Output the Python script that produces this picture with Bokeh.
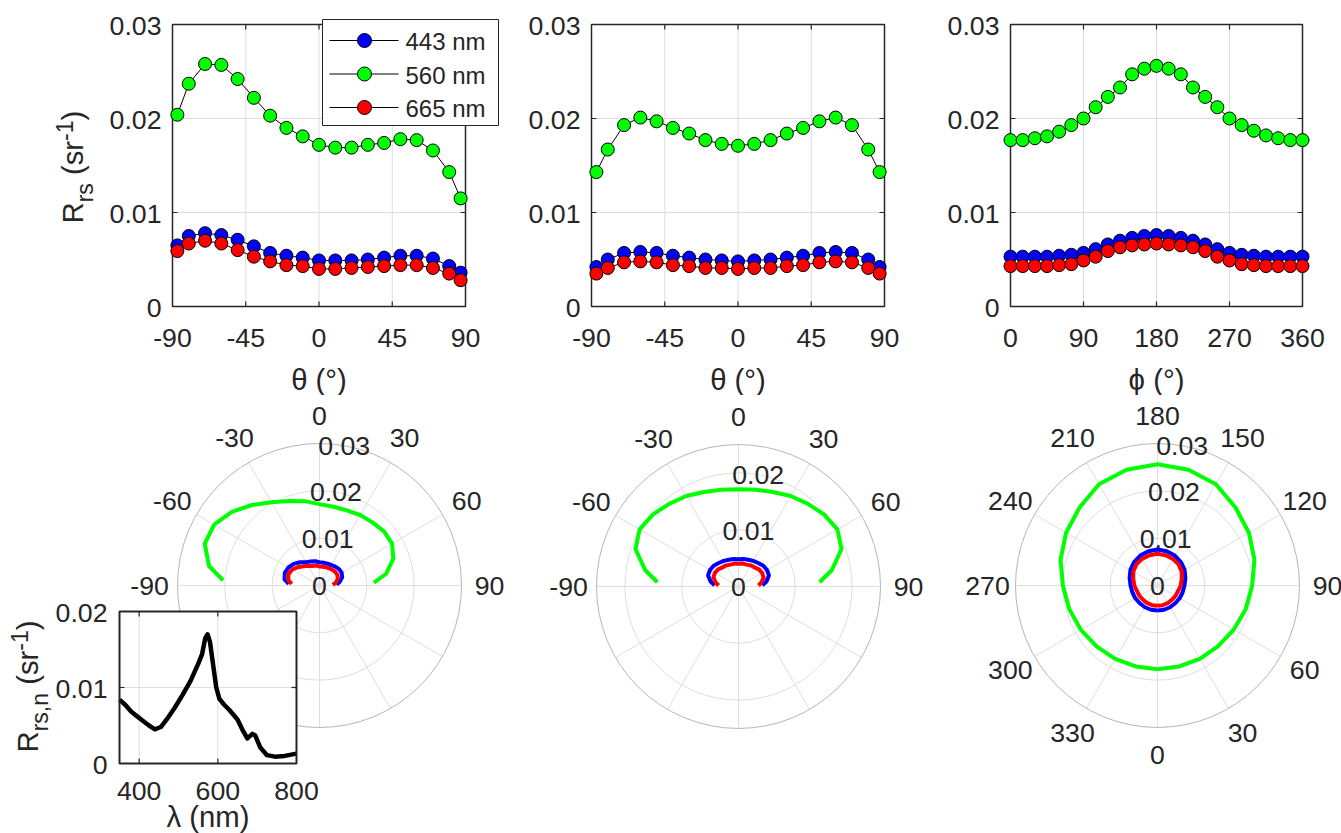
import math
from bokeh.plotting import figure
from bokeh.layouts import row, column
from bokeh.models import Range1d
from bokeh.embed import file_html
from bokeh.resources import INLINE
from bokeh.core.properties import value

# ---------------- data ----------------
theta_deg = [-87, -80, -70, -60, -50, -40, -30, -20, -10, 0, 10, 20, 30, 40, 50, 60, 70, 80, 87]
a_443 = [0.0065, 0.0075, 0.0078, 0.0076, 0.0071, 0.0064, 0.0057, 0.0054, 0.0052, 0.0049,
         0.0049, 0.0049, 0.0050, 0.0052, 0.0054, 0.0054, 0.0051, 0.0043, 0.0036]
a_560 = [0.0204, 0.0237, 0.0258, 0.0257, 0.0242, 0.0222, 0.0203, 0.0190, 0.0181, 0.0172,
         0.0169, 0.0169, 0.0172, 0.0174, 0.0178, 0.0177, 0.0166, 0.0143, 0.0115]
a_665 = [0.0059, 0.0067, 0.0070, 0.0067, 0.0060, 0.0053, 0.0048, 0.0044, 0.0043, 0.0040,
         0.0040, 0.0041, 0.0042, 0.0043, 0.0044, 0.0044, 0.0041, 0.0035, 0.0028]

b_443 = [0.0042, 0.0050, 0.0057, 0.0058, 0.0057, 0.0054, 0.0052, 0.0050, 0.0049, 0.0048,
         0.0049, 0.0050, 0.0052, 0.0054, 0.0057, 0.0058, 0.0057, 0.0050, 0.0042]
b_560 = [0.0143, 0.0167, 0.0193, 0.0201, 0.0197, 0.0190, 0.0184, 0.0177, 0.0173, 0.0171,
         0.0173, 0.0177, 0.0184, 0.0190, 0.0197, 0.0201, 0.0193, 0.0167, 0.0143]
b_665 = [0.0035, 0.0041, 0.0047, 0.0048, 0.0047, 0.0044, 0.0043, 0.0041, 0.0041, 0.0040,
         0.0041, 0.0041, 0.0043, 0.0044, 0.0047, 0.0048, 0.0047, 0.0041, 0.0035]

phi_deg = [0, 15, 30, 45, 60, 75, 90, 105, 120, 135, 150, 165, 180,
           195, 210, 225, 240, 255, 270, 285, 300, 315, 330, 345, 360]
c_443 = [0.0053, 0.0053, 0.0053, 0.0053, 0.0054, 0.0055, 0.0057, 0.0061, 0.0066, 0.0070, 0.0073, 0.0075, 0.0076,
         0.0075, 0.0073, 0.0070, 0.0066, 0.0061, 0.0057, 0.0055, 0.0054, 0.0053, 0.0053, 0.0053, 0.0053]
c_560 = [0.0177, 0.0177, 0.0179, 0.0181, 0.0186, 0.0193, 0.0200, 0.0212, 0.0223, 0.0233, 0.0247, 0.0253, 0.0256,
         0.0253, 0.0247, 0.0233, 0.0223, 0.0212, 0.0200, 0.0193, 0.0187, 0.0182, 0.0179, 0.0177, 0.0177]
c_665 = [0.0043, 0.0043, 0.0043, 0.0043, 0.0044, 0.0045, 0.0049, 0.0053, 0.0059, 0.0063, 0.0065, 0.0066, 0.0067,
         0.0066, 0.0065, 0.0063, 0.0059, 0.0053, 0.0049, 0.0045, 0.0044, 0.0043, 0.0043, 0.0043, 0.0043]

wavelength_nm = [350, 365, 380, 395, 410, 425, 440, 455, 470, 490, 510, 530, 550, 560, 568, 574,
                 580, 588, 596, 604, 615, 630, 650, 662, 675, 688, 695, 708, 725, 745, 770, 800]
rrs_n = [0.0084, 0.0077, 0.0068, 0.0062, 0.0056, 0.0050, 0.0045, 0.0048, 0.0058, 0.0073, 0.0090, 0.0108,
         0.0131, 0.0144, 0.0165, 0.0170, 0.0160, 0.0130, 0.0100, 0.0085, 0.0078, 0.0070, 0.0058, 0.0045,
         0.0033, 0.0039, 0.0037, 0.0021, 0.0011, 0.0009, 0.0010, 0.0013]

series_labels = ["443 nm", "560 nm", "665 nm"]
series_colors = ["#0000ff", "#00ff00", "#ff0000"]

rrs_lim = [0, 0.03]
rrs_ticks = [0, 0.01, 0.02, 0.03]
rrs_tick_labels = ["0", "0.01", "0.02", "0.03"]
theta_lim = [-90, 90]
theta_ticks = [-90, -45, 0, 45, 90]
theta_tick_labels = ["-90", "-45", "0", "45", "90"]
phi_lim = [0, 360]
phi_ticks = [0, 90, 180, 270, 360]
phi_tick_labels = ["0", "90", "180", "270", "360"]

polar_rmax = [0.03, 0.025, 0.03]
polar_r_ticks = [[0, 0.01, 0.02, 0.03], [0, 0.01, 0.02], [0, 0.01, 0.02, 0.03]]
polar_r_labels = [["0", "0.01", "0.02", "0.03"], ["0", "0.01", "0.02"], ["0", "0.01", "0.02", "0.03"]]
polar_theta_ticks_half = [-90, -60, -30, 0, 30, 60, 90]
polar_phi_ticks = [0, 30, 60, 90, 120, 150, 180, 210, 240, 270, 300, 330]

lam_lim = [350, 800]
lam_ticks = [400, 600, 800]
lam_tick_labels = ["400", "600", "800"]
rn_lim = [0, 0.02]
rn_ticks = [0, 0.01, 0.02]
rn_tick_labels = ["0", "0.01", "0.02"]

ylabel_parts = ["R", "rs", "(sr", "-1", ")"]
inset_ylabel_parts = ["R", "rs,n", "(sr", "-1", ")"]
ylabel_kind = ["main", "sub", "main", "sup", "main"]
ylabel_space_before = [False, False, True, False, False]

# ---------------- style / layout ----------------
FONT = "Liberation Sans"
TXT = "#262626"
AX = "#262626"
GRID = "#dedede"
TICK_PX = 26.7
LABEL_PX = 29.3
SUB_PX = 23
LEG_PX = 24
TICK_LEN = 5
SUB_SHIFT = 13
SUP_SHIFT = -8

COL_W = [528, 419, 394]
TOP_H, BOT_H = 395, 438
BOT_TOP = TOP_H
POLAR_R_PX = 142.0
THETA_LABEL_FACTOR = 1.197
R_LABEL_ANGLE = 10.0

ADV = {'R': 0.722, 'r': 0.333, 's': 0.5, ' ': 0.278, '(': 0.333, ')': 0.333,
       '-': 0.333, '1': 0.556, ',': 0.278, 'n': 0.556}


def text_w(s, px):
    return sum(ADV.get(c, 0.556) for c in s) * px


def canvas(W, H, L, R, T, B, xlim, ylim):
    xpp = (xlim[1] - xlim[0]) / (R - L)
    ypp = (ylim[1] - ylim[0]) / (B - T)
    p = figure(width=W, height=H,
               x_range=Range1d(xlim[0] - L * xpp, xlim[1] + (W - R) * xpp),
               y_range=Range1d(ylim[0] - (H - B) * ypp, ylim[1] + T * ypp),
               min_border=0, x_axis_type=None, y_axis_type=None,
               toolbar_location=None, output_backend="svg")
    p.outline_line_color = None
    p.background_fill_color = "white"
    p.border_fill_color = "white"
    return p, xpp, ypp


def txt(p, **kw):
    size = kw.pop("size", TICK_PX)
    kw.setdefault("text_color", TXT)
    kw.setdefault("text_baseline", "middle")
    return p.text(text_font=value(FONT), text_font_size=value(f"{size}px"), **kw)


def grid(p, xlim, ylim, xticks, yticks, **kw):
    gx = [t for t in xticks if xlim[0] < t < xlim[1]]
    gy = [t for t in yticks if ylim[0] < t < ylim[1]]
    p.segment(x0=gx, x1=gx, y0=[ylim[0]] * len(gx), y1=[ylim[1]] * len(gx),
              line_color=GRID, line_width=1, **kw)
    p.segment(x0=[xlim[0]] * len(gy), x1=[xlim[1]] * len(gy), y0=gy, y1=gy,
              line_color=GRID, line_width=1, **kw)


def box_ticks(p, xlim, ylim, xticks, yticks, xpp, ypp, lw, **kw):
    gx = [t for t in xticks if xlim[0] < t < xlim[1]]
    gy = [t for t in yticks if ylim[0] < t < ylim[1]]
    d_y = TICK_LEN * ypp
    d_x = TICK_LEN * xpp
    p.segment(x0=gx * 2, x1=gx * 2,
              y0=[ylim[0]] * len(gx) + [ylim[1]] * len(gx),
              y1=[ylim[0] + d_y] * len(gx) + [ylim[1] - d_y] * len(gx),
              line_color=AX, line_width=1.2, **kw)
    p.segment(x0=[xlim[0]] * len(gy) + [xlim[1]] * len(gy),
              x1=[xlim[0] + d_x] * len(gy) + [xlim[1] - d_x] * len(gy),
              y0=gy * 2, y1=gy * 2, line_color=AX, line_width=1.2, **kw)
    p.quad(left=[xlim[0]], right=[xlim[1]], bottom=[ylim[0]], top=[ylim[1]],
           fill_color=None, line_color=AX, line_width=lw, **kw)


def tick_labels(p, xlim, ylim, xticks, xlabels, yticks, ylabels, x_down, y_gap, **kw):
    txt(p, x=xticks, y=[ylim[0]] * len(xticks), text=xlabels, y_offset=x_down,
        text_align="center", **kw)
    txt(p, x=[xlim[0]] * len(yticks), y=yticks, text=ylabels, x_offset=-y_gap, y_offset=1,
        text_align="right", **kw)


def rotated_label(p, x, y, parts, kinds, spaces, x_mid, y_start, **kw):
    off = y_start
    for part, kind, sp in zip(parts, kinds, spaces):
        px = LABEL_PX if kind == "main" else SUB_PX
        if sp:
            off -= text_w(" ", px)
        shift = 0 if kind == "main" else (SUB_SHIFT if kind == "sub" else SUP_SHIFT)
        txt(p, x=[x], y=[y], text=[part], x_offset=x_mid + shift, y_offset=off,
            angle=math.pi / 2, text_align="left", size=px, **kw)
        off -= text_w(part, px)


# ---------------- top row (Cartesian panels) ----------------
TOP_BOX = [(172, 465), (63, 356), (63, 355)]   # frame left/right inside each column
FR_T, FR_B = 24, 306


def top_panel(ci, xlim, xticks, xlabels, xlabel, xs, series):
    L, R = TOP_BOX[ci]
    p, xpp, ypp = canvas(COL_W[ci], TOP_H, L, R, FR_T, FR_B, xlim, rrs_lim)
    grid(p, xlim, rrs_lim, xticks, rrs_ticks)
    box_ticks(p, xlim, rrs_lim, xticks, rrs_ticks, xpp, ypp, 1.5)
    for vals, col in zip(series, series_colors):
        p.line(xs, vals, line_color="black", line_width=1)
        p.scatter(xs, vals, size=13, fill_color=col, line_color="black", line_width=1)
    tick_labels(p, xlim, rrs_lim, xticks, xlabels, rrs_ticks, rrs_tick_labels, 31, 11)
    txt(p, x=[sum(xlim) / 2], y=[rrs_lim[0]], text=[xlabel], y_offset=73, size=LABEL_PX,
        text_align="center")
    return p, xpp, ypp


f1, xpp1, ypp1 = top_panel(0, theta_lim, theta_ticks, theta_tick_labels, "θ (°)", theta_deg,
                           [a_443, a_560, a_665])
f2, _, _ = top_panel(1, theta_lim, theta_ticks, theta_tick_labels, "θ (°)", theta_deg,
                     [b_443, b_560, b_665])
f3, _, _ = top_panel(2, phi_lim, phi_ticks, phi_tick_labels, "ϕ (°)", phi_deg,
                     [c_443, c_560, c_665])

# y label R_rs (sr^-1) on the first panel
rotated_label(f1, theta_lim[0], rrs_lim[0], ylabel_parts, ylabel_kind, ylabel_space_before,
              71.5 - TOP_BOX[0][0], 223 - FR_B)

# legend of the first panel (drawn with glyphs, layout in pixels)
LEG_L, LEG_R, LEG_T, LEG_B = 322, 498, 19, 125
LEG_PITCH = 33.5
LEG_LINE = (329, 398)
LEG_MARK = 364
LEG_TEXT = 405


def fx(px):
    return f1.x_range.start + px * xpp1


def fy(py):
    return f1.y_range.end - py * ypp1


f1.quad(left=[fx(LEG_L)], right=[fx(LEG_R)], top=[fy(LEG_T)], bottom=[fy(LEG_B)],
        fill_color="white", line_color=AX, line_width=1)
rows_y = [fy(LEG_T + 21 + i * LEG_PITCH) for i in range(len(series_labels))]
f1.segment(x0=[fx(LEG_LINE[0])] * len(rows_y), x1=[fx(LEG_LINE[1])] * len(rows_y),
           y0=rows_y, y1=rows_y, line_color="black", line_width=1)
f1.scatter(x=[fx(LEG_MARK)] * len(rows_y), y=rows_y, size=14, fill_color=series_colors,
           line_color="black", line_width=1)
txt(f1, x=[fx(LEG_TEXT)] * len(rows_y), y=rows_y, text=series_labels, y_offset=1, size=LEG_PX,
    text_align="left")


# ---------------- polar panels ----------------
POLAR_CENTER = [(319, 585), (738 - 528, 586), (1157 - 947, 585)]   # inside each column


def polar_panel(ci, rmax, r_ticks, r_labels, th_ticks, zero, direction, th, series):
    W = COL_W[ci]
    cx, cy = POLAR_CENTER[ci]
    s = POLAR_R_PX / rmax
    p = figure(width=W, height=BOT_H,
               x_range=Range1d(-cx / s, (W - cx) / s),
               y_range=Range1d((cy - (BOT_TOP + BOT_H)) / s, (cy - BOT_TOP) / s),
               min_border=0, x_axis_type=None, y_axis_type=None,
               toolbar_location=None, output_backend="svg")
    p.outline_line_color = None
    p.background_fill_color = "white"
    p.border_fill_color = "white"

    def scr(t):
        return math.radians(zero + direction * t)

    spokes = list(range(0, 360, 30))
    p.segment(x0=[0] * len(spokes), y0=[0] * len(spokes),
              x1=[rmax * math.sin(math.radians(a)) for a in spokes],
              y1=[rmax * math.cos(math.radians(a)) for a in spokes],
              line_color=GRID, line_width=1)
    inner = [r for r in r_ticks if 0 < r < rmax]
    p.circle(x=[0] * len(inner), y=[0] * len(inner), radius=inner,
             fill_color=None, line_color=GRID, line_width=1)
    p.circle(x=[0], y=[0], radius=[rmax], fill_color=None, line_color="#b5b5b5", line_width=1)

    for vals, col in zip(series, series_colors):
        xs = [r * math.sin(scr(t)) for r, t in zip(vals, th)]
        ys = [r * math.cos(scr(t)) for r, t in zip(vals, th)]
        p.line(xs, ys, line_color=col, line_width=4, line_join="round")

    rl = THETA_LABEL_FACTOR * rmax
    txt(p, x=[rl * math.sin(scr(t)) for t in th_ticks], y=[rl * math.cos(scr(t)) for t in th_ticks],
        text=[str(t) for t in th_ticks], text_align="center")
    ra = math.radians(R_LABEL_ANGLE)
    txt(p, x=[r * math.sin(ra) for r in r_ticks], y=[r * math.cos(ra) for r in r_ticks],
        text=r_labels, text_align="center")
    return p


g1 = polar_panel(0, polar_rmax[0], polar_r_ticks[0], polar_r_labels[0],
                 polar_theta_ticks_half, 0, 1, theta_deg, [a_443, a_560, a_665])
g2 = polar_panel(1, polar_rmax[1], polar_r_ticks[1], polar_r_labels[1],
                 polar_theta_ticks_half, 0, 1, theta_deg, [b_443, b_560, b_665])
g3 = polar_panel(2, polar_rmax[2], polar_r_ticks[2], polar_r_labels[2],
                 polar_phi_ticks, 180, -1, phi_deg, [c_443, c_560, c_665])

# ---------------- inset spectrum inside g1 ----------------
IN_L, IN_R, IN_T, IN_B = 119, 296, 611, 763   # inset frame in page pixels
fy0 = IN_T - BOT_TOP
fy1 = IN_B - BOT_TOP
nm_px = (lam_lim[1] - lam_lim[0]) / (IN_R - IN_L)
u_px = (rn_lim[1] - rn_lim[0]) / (fy1 - fy0)
g1.extra_x_ranges = {"lam": Range1d(lam_lim[0] - IN_L * nm_px, lam_lim[1] + (COL_W[0] - IN_R) * nm_px)}
g1.extra_y_ranges = {"rn": Range1d(rn_lim[0] - (BOT_H - fy1) * u_px, rn_lim[1] + fy0 * u_px)}
kw = dict(x_range_name="lam", y_range_name="rn")

g1.quad(left=[lam_lim[0]], right=[lam_lim[1]], bottom=[rn_lim[0]], top=[rn_lim[1]],
        fill_color="white", line_color=None, **kw)
grid(g1, lam_lim, rn_lim, lam_ticks, rn_ticks, **kw)
g1.line(wavelength_nm, rrs_n, line_color="black", line_width=4.5, line_join="round", **kw)
box_ticks(g1, lam_lim, rn_lim, lam_ticks, rn_ticks, nm_px, u_px, 2, **kw)
tick_labels(g1, lam_lim, rn_lim, lam_ticks, lam_tick_labels, rn_ticks, rn_tick_labels, 27, 12, **kw)
txt(g1, x=[sum(lam_lim) / 2], y=[rn_lim[0]], text=["λ (nm)"], y_offset=53, size=LABEL_PX,
    text_align="center", **kw)
rotated_label(g1, lam_lim[0], rn_lim[0], inset_ylabel_parts, ylabel_kind, ylabel_space_before,
              26.5 - IN_L, 752 - IN_B, **kw)

layout = column(row(f1, f2, f3), row(g1, g2, g3))
open("out.html", "w").write(file_html(layout, INLINE))
